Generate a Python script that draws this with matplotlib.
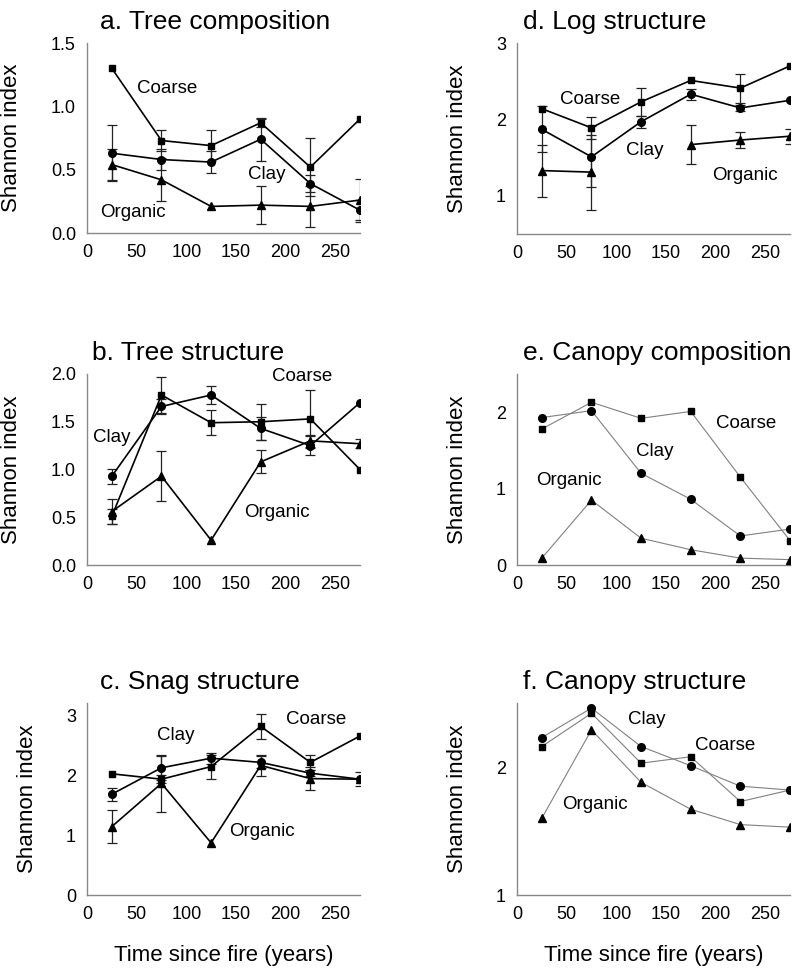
import matplotlib.pyplot as plt
import numpy as np

plt.rcParams['font.family'] = ['Liberation Sans', 'DejaVu Sans']

nan = np.nan
years = [25, 75, 125, 175, 225, 275]
xticks = [0, 50, 100, 150, 200, 250]

# a. Tree composition
a_coarse = [1.30, 0.73, 0.69, 0.87, 0.52, 0.90]
a_clay = [0.63, 0.58, 0.56, 0.74, 0.39, 0.18]
a_organic = [0.54, 0.42, 0.21, 0.22, 0.21, 0.26]
a_coarse_err = [nan, 0.08, 0.12, 0.03, 0.23, nan]
a_clay_err = [0.22, 0.08, 0.09, 0.17, 0.07, 0.08]
a_organic_err = [0.12, 0.17, nan, 0.15, 0.16, 0.17]

# b. Tree structure
b_coarse = [0.51, 1.78, 1.49, 1.50, 1.53, 1.00]
b_clay = [0.93, 1.66, 1.78, 1.43, 1.25, 1.70]
b_organic = [0.56, 0.93, 0.26, 1.08, 1.30, 1.27]
b_coarse_err = [0.08, 0.19, 0.13, 0.19, 0.30, nan]
b_clay_err = [0.08, 0.08, 0.09, 0.12, 0.10, nan]
b_organic_err = [0.13, 0.26, nan, 0.12, 0.06, 0.05]

# c. Snag structure
c_coarse = [2.02, 1.93, 2.14, 2.81, 2.21, 2.65]
c_clay = [1.68, 2.12, 2.28, 2.21, 2.03, 1.93]
c_organic = [1.14, 1.86, 0.87, 2.16, 1.94, 1.93]
c_coarse_err = [nan, 0.07, 0.20, 0.21, 0.13, nan]
c_clay_err = [0.11, 0.20, 0.09, 0.10, 0.05, 0.12]
c_organic_err = [0.28, 0.47, nan, 0.18, 0.19, nan]

# d. Log structure
d_coarse = [2.14, 1.89, 2.23, 2.51, 2.41, 2.70]
d_clay = [1.87, 1.51, 1.97, 2.33, 2.15, 2.25]
d_organic = [1.33, 1.31, nan, 1.67, 1.73, 1.78]
d_coarse_err = [nan, 0.14, 0.18, nan, 0.19, nan]
d_clay_err = [0.30, 0.40, 0.08, 0.07, 0.04, nan]
d_organic_err = [0.34, 0.49, nan, 0.26, 0.11, 0.10]

# e. Canopy composition (no error bars)
e_coarse = [1.78, 2.13, 1.92, 2.01, 1.15, 0.32]
e_clay = [1.93, 2.02, 1.20, 0.86, 0.38, 0.47]
e_organic = [0.09, 0.85, 0.35, 0.20, 0.09, 0.07]

# f. Canopy structure (no error bars)
f_coarse = [2.16, 2.42, 2.03, 2.08, 1.73, 1.82]
f_clay = [2.23, 2.46, 2.16, 2.01, 1.85, 1.82]
f_organic = [1.60, 2.29, 1.88, 1.67, 1.55, 1.53]

W, H = 793, 968


def make_axes(fig, box):
    l, t, r, b = box
    ax = fig.add_axes([l / W, 1 - b / H, (r - l) / W, (b - t) / H])
    for s in ['top', 'right']:
        ax.spines[s].set_visible(False)
    for s in ['left', 'bottom']:
        ax.spines[s].set_color('#888888')
        ax.spines[s].set_linewidth(1.0)
    ax.tick_params(length=0, labelsize=13, pad=8)
    ax.set_xlim(0, 275)
    ax.set_xticks(xticks)
    return ax


def draw_series(ax, y, err, marker, ms, grey_line=False):
    lc = '#808080' if grey_line else 'black'
    lw = 0.8 if grey_line else 1.2
    ax.plot(years, y, color=lc, lw=lw, zorder=2)
    ax.plot(years, y, ls='none', marker=marker, ms=ms, color='black', zorder=3)
    if err is not None:
        ax.errorbar(years, y, yerr=err, fmt='none', ecolor='#222222',
                    elinewidth=0.9, capsize=3.5, capthick=0.9, zorder=1)


def finish(ax, title, tx, ylab_off, h_px, labels, xlabel=False):
    ax.text(tx, 1 + 21 / h_px, title, transform=ax.transAxes, fontsize=19,
            ha='left', va='center')
    ax.set_ylabel('Shannon index', fontsize=16)
    ax.yaxis.set_label_coords(-ylab_off / 273, 0.5)
    for txt, x, y in labels:
        ax.text(x, y, txt, fontsize=13.5, ha='center', va='center')
    if xlabel:
        ax.text(0.5, -60 / h_px, 'Time since fire (years)', transform=ax.transAxes,
                fontsize=16, ha='center', va='center')


def plot_panels(save_path='out.png'):
    fig = plt.figure(figsize=(W / 100, H / 100), dpi=100)

    # a
    ax = make_axes(fig, (87, 43, 360, 233))
    draw_series(ax, a_organic, a_organic_err, '^', 5.5)
    draw_series(ax, a_clay, a_clay_err, 'o', 5.5)
    draw_series(ax, a_coarse, a_coarse_err, 's', 5)
    ax.set_ylim(0, 1.5)
    ax.set_yticks([0, 0.5, 1.0, 1.5])
    ax.set_yticklabels(['0.0', '0.5', '1.0', '1.5'])
    finish(ax, 'a. Tree composition', 13 / 273, 65, 190,
           [('Coarse', 81, 1.14), ('Clay', 181, 0.46), ('Organic', 46, 0.16)])

    # b
    ax = make_axes(fig, (87, 374, 360, 565))
    draw_series(ax, b_organic, b_organic_err, '^', 5.5)
    draw_series(ax, b_clay, b_clay_err, 'o', 5.5)
    draw_series(ax, b_coarse, b_coarse_err, 's', 5)
    ax.set_ylim(0, 2.0)
    ax.set_yticks([0, 0.5, 1.0, 1.5, 2.0])
    ax.set_yticklabels(['0.0', '0.5', '1.0', '1.5', '2.0'])
    finish(ax, 'b. Tree structure', 5 / 273, 65, 191,
           [('Coarse', 217, 1.97), ('Clay', 25, 1.34), ('Organic', 191, 0.55)])

    # c
    ax = make_axes(fig, (87, 703, 360, 895))
    draw_series(ax, c_organic, c_organic_err, '^', 5.5)
    draw_series(ax, c_clay, c_clay_err, 'o', 5.5)
    draw_series(ax, c_coarse, c_coarse_err, 's', 5)
    ax.set_ylim(0, 3.2)
    ax.set_yticks([0, 1, 2, 3])
    finish(ax, 'c. Snag structure', 13 / 273, 49, 192,
           [('Coarse', 231, 2.93), ('Clay', 89, 2.65), ('Organic', 176, 1.06)],
           xlabel=True)

    # d
    ax = make_axes(fig, (517, 43, 790, 234))
    draw_series(ax, d_organic, d_organic_err, '^', 5.5)
    draw_series(ax, d_clay, d_clay_err, 'o', 5.5)
    draw_series(ax, d_coarse, d_coarse_err, 's', 5)
    ax.set_ylim(0.5, 3)
    ax.set_yticks([1, 2, 3])
    finish(ax, 'd. Log structure', 6 / 273, 49, 191,
           [('Coarse', 74, 2.26), ('Clay', 129, 1.59), ('Organic', 230, 1.26)])

    # e
    ax = make_axes(fig, (517, 374, 790, 565))
    draw_series(ax, e_organic, None, '^', 5.5, grey_line=True)
    draw_series(ax, e_clay, None, 'o', 5.5, grey_line=True)
    draw_series(ax, e_coarse, None, 's', 5, grey_line=True)
    ax.set_ylim(0, 2.5)
    ax.set_yticks([0, 1, 2])
    finish(ax, 'e. Canopy composition', 6 / 273, 49, 191,
           [('Coarse', 231, 1.85), ('Clay', 139, 1.48), ('Organic', 52, 1.10)])

    # f
    ax = make_axes(fig, (517, 703, 790, 895))
    draw_series(ax, f_organic, None, '^', 5.5, grey_line=True)
    draw_series(ax, f_clay, None, 'o', 5.5, grey_line=True)
    draw_series(ax, f_coarse, None, 's', 5, grey_line=True)
    ax.set_ylim(1, 2.5)
    ax.set_yticks([1, 2])
    finish(ax, 'f. Canopy structure', 6 / 273, 49, 192,
           [('Clay', 131, 2.37), ('Coarse', 210, 2.17), ('Organic', 79, 1.71)],
           xlabel=True)

    fig.savefig(save_path, dpi=100)


if __name__ == '__main__':
    plot_panels()
